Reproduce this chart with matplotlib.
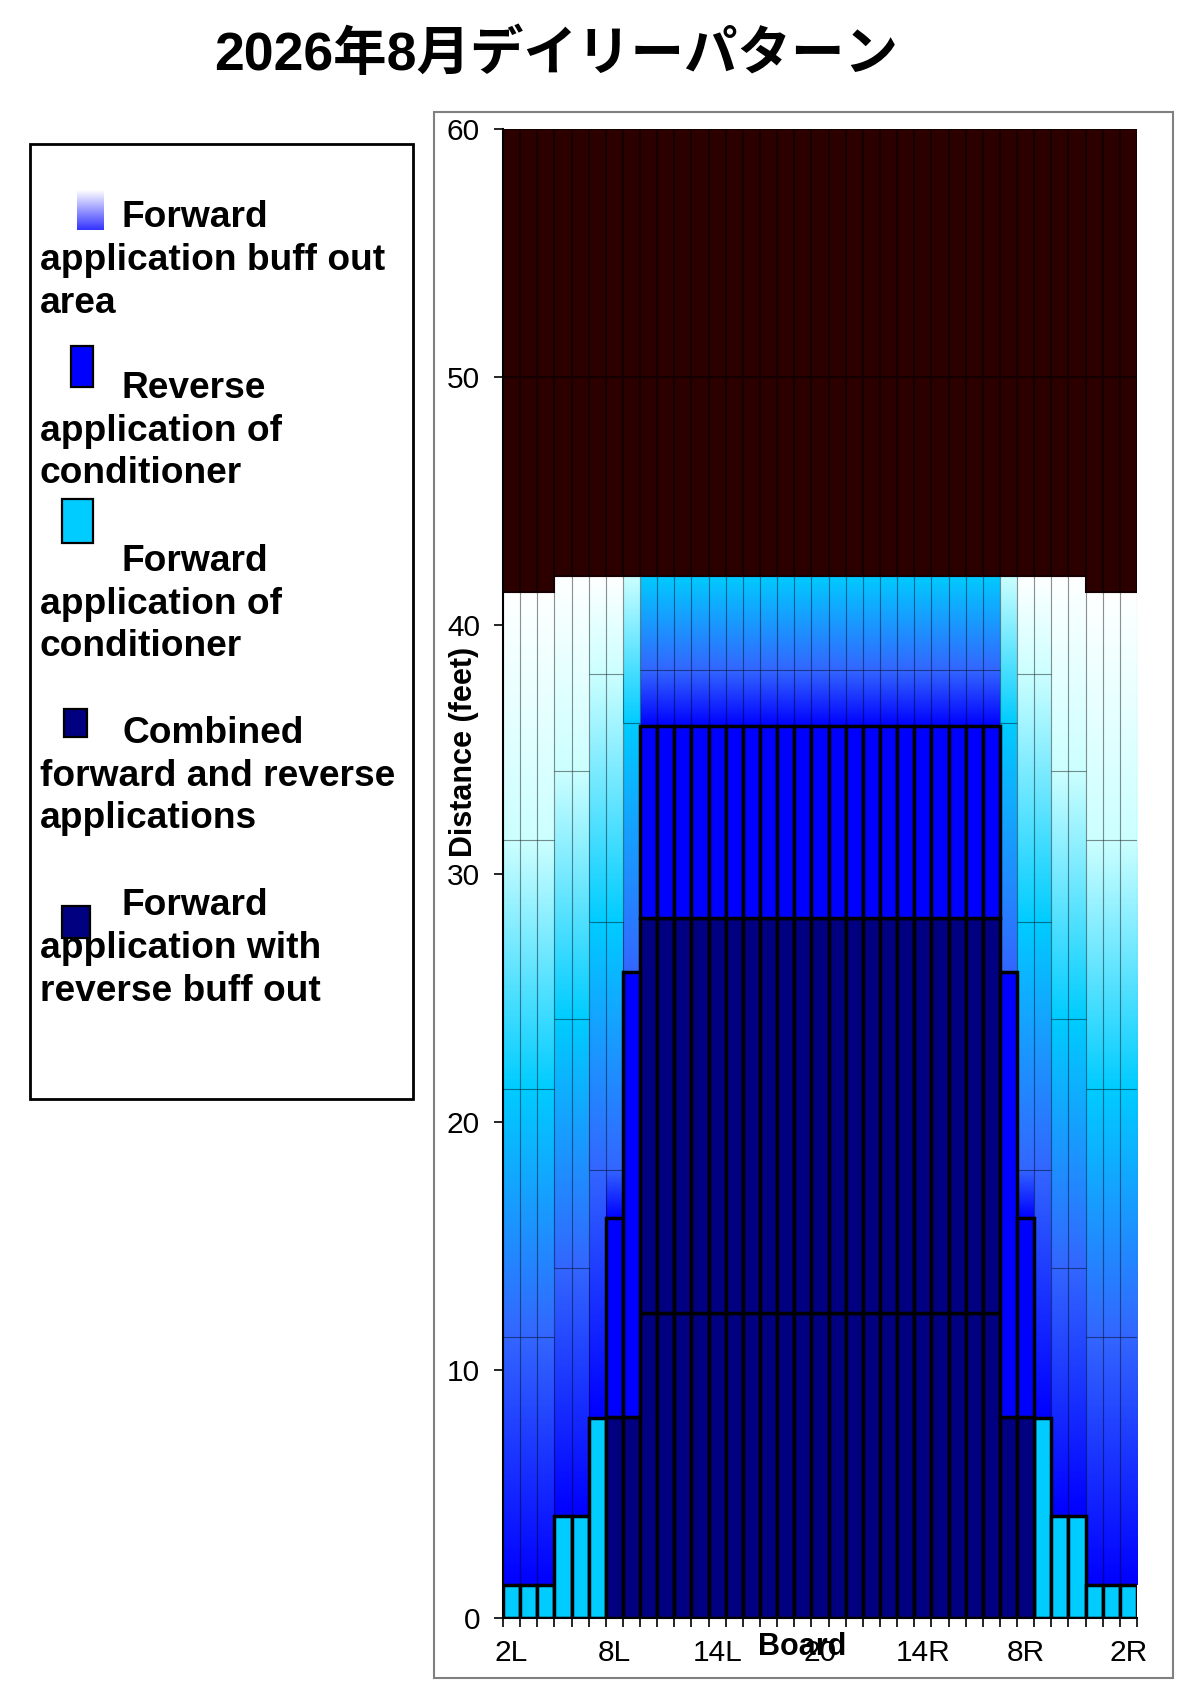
import numpy as np
import matplotlib
matplotlib.use('Agg')
import matplotlib.pyplot as plt
from matplotlib.colors import LinearSegmentedColormap
from matplotlib.patches import Rectangle

plt.rcParams['font.family'] = ['Liberation Sans', 'Noto Sans CJK JP', 'DejaVu Sans']

########################################################################################
# Data (feet along the lane, per board)
########################################################################################

title = '2026年8月デイリーパターン'
boards = ['2L', '3L', '4L', '5L', '6L', '7L', '8L', '9L', '10L', '11L', '12L', '13L',
          '14L', '15L', '16L', '17L', '18L', '19L', '20', '19R', '18R', '17R', '16R',
          '15R', '14R', '13R', '12R', '11R', '10R', '9R', '8R', '7R', '6R', '5R', '4R',
          '3R', '2R']

# stacked segments, bottom to top
fwd_cond = [1.33, 1.33, 1.33, 4.12, 4.12, 8.05,
            0, 0, 0, 0, 0, 0, 0, 0, 0, 0, 0, 0, 0, 0, 0, 0, 0, 0, 0, 0, 0, 0, 0, 0, 0,
            8.05, 4.12, 4.12, 1.33, 1.33, 1.33]
combined = [0, 0, 0, 0, 0, 0, 8.1, 8.1,
            12.3, 12.3, 12.3, 12.3, 12.3, 12.3, 12.3, 12.3, 12.3, 12.3, 12.3,
            12.3, 12.3, 12.3, 12.3, 12.3, 12.3, 12.3, 12.3, 12.3, 12.3,
            8.1, 8.1, 0, 0, 0, 0, 0, 0]
fwd_rev_buff = [0, 0, 0, 0, 0, 0, 0, 0,
                15.9, 15.9, 15.9, 15.9, 15.9, 15.9, 15.9, 15.9, 15.9, 15.9, 15.9,
                15.9, 15.9, 15.9, 15.9, 15.9, 15.9, 15.9, 15.9, 15.9, 15.9,
                0, 0, 0, 0, 0, 0, 0, 0]
reverse = [0, 0, 0, 0, 0, 0, 8.0, 17.95,
           7.75, 7.75, 7.75, 7.75, 7.75, 7.75, 7.75, 7.75, 7.75, 7.75, 7.75,
           7.75, 7.75, 7.75, 7.75, 7.75, 7.75, 7.75, 7.75, 7.75, 7.75,
           17.95, 8.0, 0, 0, 0, 0, 0, 0]
# forward application buff out area, four gradient bands
buff1 = [10, 10, 10, 10, 10, 10, 1.95, 0,
         2.25, 2.25, 2.25, 2.25, 2.25, 2.25, 2.25, 2.25, 2.25, 2.25, 2.25,
         2.25, 2.25, 2.25, 2.25, 2.25, 2.25, 2.25, 2.25, 2.25, 2.25,
         0, 1.95, 10, 10, 10, 10, 10, 10]
buff2 = [10, 10, 10, 10, 10, 10, 10, 10.02,
         3.8, 3.8, 3.8, 3.8, 3.8, 3.8, 3.8, 3.8, 3.8, 3.8, 3.8,
         3.8, 3.8, 3.8, 3.8, 3.8, 3.8, 3.8, 3.8, 3.8, 3.8,
         10.02, 10, 10, 10, 10, 10, 10, 10]
buff3 = [10, 10, 10, 10, 10, 10, 10, 5.93,
         0, 0, 0, 0, 0, 0, 0, 0, 0, 0, 0, 0, 0, 0, 0, 0, 0, 0, 0, 0, 0,
         5.93, 10, 10, 10, 10, 10, 10, 10]
buff4 = [10, 10, 10, 7.88, 7.88, 3.95, 3.95, 0,
         0, 0, 0, 0, 0, 0, 0, 0, 0, 0, 0, 0, 0, 0, 0, 0, 0, 0, 0, 0, 0,
         0, 3.95, 3.95, 7.88, 7.88, 10, 10, 10]
rest_low = [8.67, 8.67, 8.67, 8, 8, 8, 8, 8, 8, 8, 8, 8, 8, 8, 8, 8, 8, 8, 8,
            8, 8, 8, 8, 8, 8, 8, 8, 8, 8, 8, 8, 8, 8, 8, 8.67, 8.67, 8.67]
rest_high = [10] * len(boards)

legend_entries = [
    ['Forward', 'application buff out', 'area'],
    ['Reverse', 'application of', 'conditioner'],
    ['Forward', 'application of', 'conditioner'],
    ['Combined', 'forward and reverse', 'applications'],
    ['Forward', 'application with', 'reverse buff out'],
]

########################################################################################
# Styles
########################################################################################

BLUE = '#0000ff'
MID = '#3366ff'
CYAN = '#00ccff'
PALE = '#ccffff'
WHITE = '#ffffff'
NAVY = '#000080'
MAROON = '#2d0000'

layers = [
    (fwd_cond, 'solid', CYAN),
    (combined, 'solid', NAVY),
    (fwd_rev_buff, 'solid', NAVY),
    (reverse, 'solid', BLUE),
    (buff1, 'grad', (BLUE, MID)),
    (buff2, 'grad', (MID, CYAN)),
    (buff3, 'grad', (CYAN, PALE)),
    (buff4, 'grad', (PALE, WHITE)),
    (rest_low, 'dark', MAROON),
    (rest_high, 'dark', MAROON),
]

ramp = np.linspace(0, 1, 256).reshape(-1, 1)

########################################################################################
# Figure
########################################################################################

W, H = 1200, 1682
fig = plt.figure(figsize=(W / 100, H / 100), dpi=100)
ax = fig.add_axes([503 / W, 1 - 1618 / H, (1137 - 503) / W, (1618 - 129) / H])

x = np.arange(len(boards))
bottom = np.zeros(len(boards))
for vals, kind, col in layers:
    vals = np.array(vals, dtype=float)
    keep = vals > 0
    if kind == 'solid':
        ax.bar(x[keep], vals[keep], bottom=bottom[keep], width=1.0, color=col,
               edgecolor='black', linewidth=2.5, zorder=3)
    elif kind == 'dark':
        ax.bar(x[keep], vals[keep], bottom=bottom[keep], width=1.0, color=col,
               edgecolor='#140000', linewidth=1.5, zorder=2)
    else:
        bars = ax.bar(x[keep], vals[keep], bottom=bottom[keep], width=1.0,
                      facecolor='none', edgecolor=(0, 0, 0, 0.25), linewidth=0.8, zorder=2)
        cm = LinearSegmentedColormap.from_list('band', list(col))
        for b in bars:
            x0, y0 = b.get_x(), b.get_y()
            ax.imshow(ramp, extent=[x0, x0 + b.get_width(), y0, y0 + b.get_height()],
                      origin='lower', cmap=cm, aspect='auto', interpolation='bilinear', zorder=1)
    bottom += vals

ax.set_xlim(-0.5, len(boards) - 0.5)
ax.set_ylim(0, 60)
ax.set_yticks(range(0, 61, 10))
ax.set_xticks(x[::6])
ax.set_xticklabels(boards[::6])
ax.set_xticks(np.arange(-0.5, len(boards), 1.0), minor=True)
ax.tick_params(axis='y', labelsize=21.5, length=6.5, width=1.2, pad=10)
ax.tick_params(axis='x', which='major', labelsize=21.5, length=0, pad=15)
ax.tick_params(axis='x', which='minor', length=6.5, width=1.2)
for s in ['top', 'right']:
    ax.spines[s].set_visible(False)
ax.spines['left'].set_linewidth(1.5)
ax.spines['bottom'].set_linewidth(1.5)
ax.spines['left'].set_zorder(5)
ax.spines['bottom'].set_zorder(5)

# overlay in pixel coordinates for the frame, legend and labels
ov = fig.add_axes([0, 0, 1, 1], zorder=5)
ov.patch.set_alpha(0)
ov.axis('off')

ov.add_patch(Rectangle((434, 112), 1173 - 434, 1678 - 112, fill=False,
                       edgecolor='#808080', linewidth=1.5))
ov.add_patch(Rectangle((29.5, 144), 412.5 - 29.5, 1099 - 144, fill=False,
                       edgecolor='black', linewidth=2))

# legend markers
ov.imshow(ramp, extent=[77, 104, 230, 190], origin='lower',
          cmap=LinearSegmentedColormap.from_list('lg', ['#3333ff', WHITE]), aspect='auto')
marker_boxes = [((71, 346), 22, 41, BLUE), ((62, 499), 31, 44, CYAN),
                ((64, 709), 23, 28, NAVY), ((62, 906), 28, 32, NAVY)]
for (mx, my), mw, mh, mc in marker_boxes:
    ov.add_patch(Rectangle((mx, my), mw, mh, facecolor=mc, edgecolor='black', linewidth=1.6))

first_baselines = [227, 398, 571, 743, 915]
line_gap = [43, 42.5, 42.5, 42.5, 43]
for lines, yb, gap in zip(legend_entries, first_baselines, line_gap):
    for i, s in enumerate(lines):
        ov.text(122 if i == 0 else 39.5, yb + i * gap, s, fontsize=26.7, fontweight='bold',
                ha='left', va='baseline')

ov.text(556, 70, title, ha='center', va='baseline', fontsize=38.5, fontweight='bold')
ov.text(464, 752, 'Distance (feet)', rotation=90, ha='center', va='center',
        fontsize=22, fontweight='bold')
ov.text(802, 1655, 'Board', ha='center', va='baseline', fontsize=22, fontweight='bold')

ov.set_xlim(0, W)
ov.set_ylim(H, 0)

fig.savefig('out.png', dpi=100)
